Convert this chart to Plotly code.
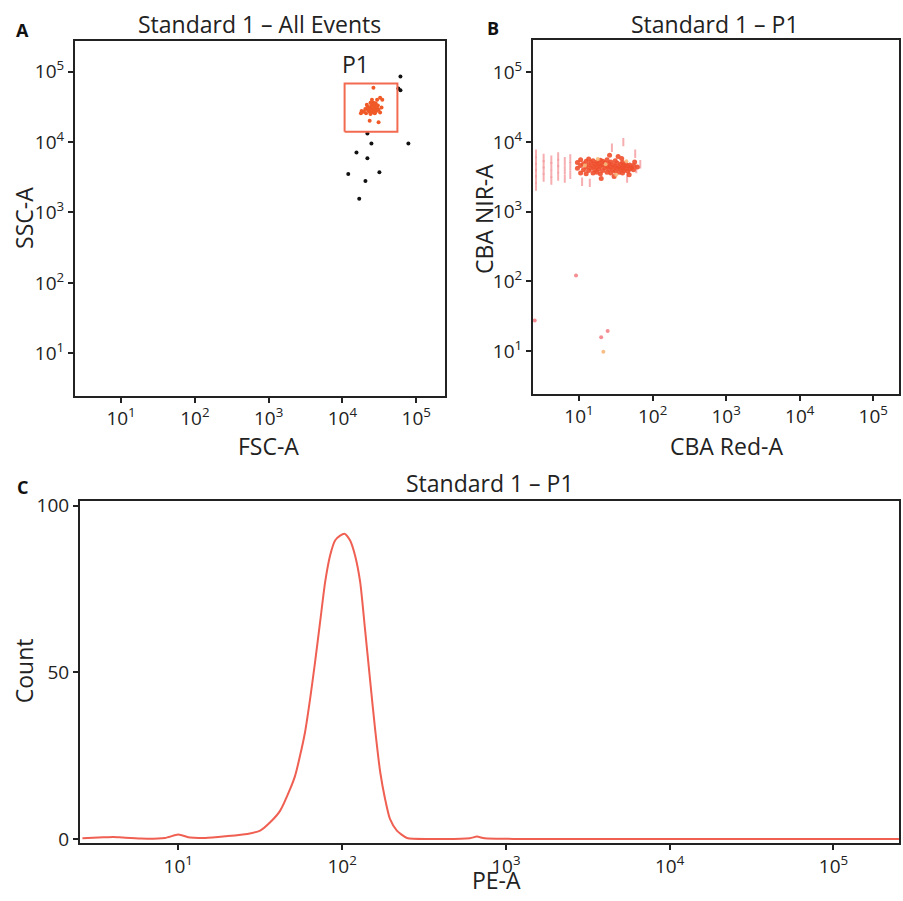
import plotly.graph_objects as go

W, H = 903, 901
FONT = "Open Sans"
INK = "#222222"

# ---------------- Panel A data (FSC-A vs SSC-A) ----------------
gate_fsc = [10700, 55600, 55600, 10700, 10700]
gate_ssc = [14000, 14000, 68000, 68000, 14000]

a_out_fsc = [61100, 57300, 61100, 21800, 24700, 78300, 15500, 21800, 31700, 12000, 20500, 16900]
a_out_ssc = [85100, 57800, 54200, 13200, 9530, 9530, 7130, 5880, 3740, 3510, 2800, 1570]

a_in_fsc = [26300, 32400, 29500, 25100, 24000, 26300, 21400, 25100, 27500, 22900,
            25700, 29500, 20400, 24000, 26900, 30900, 22400, 25100, 28800, 23400,
            26300, 19500, 33900, 32400, 18200, 17800, 20900, 34700, 23400, 30900,
            24000, 27500, 24500, 26300, 28200, 25700, 26900, 24500, 22900, 21900,
            28200, 30200]
a_in_ssc = [58900, 42700, 39800, 39800, 36300, 36300, 33900, 33100, 32400, 30900,
            30900, 30200, 29500, 29500, 28800, 28800, 28200, 27500, 27500, 26900,
            26300, 26900, 30900, 26300, 27500, 25700, 25700, 39800, 20000, 19100,
            25100, 25700, 31600, 31600, 29500, 34700, 33900, 35500, 28800, 31600,
            35500, 33100]

# ---------------- Panel B data (CBA Red-A vs CBA NIR-A) ----------------
b_pale_red = [2.6, 2.6, 2.6, 2.6, 2.6, 2.6, 3.3, 3.3, 3.3, 3.3, 4.2, 4.2, 4.2, 4.2,
              5.2, 5.2, 5.2, 5.2, 6.4, 6.4, 6.4, 7.6, 7.6, 7.6, 11, 14, 45, 60, 68,
              58, 40, 28]
b_pale_nir = [2300, 2900, 3600, 4400, 5400, 6800, 3100, 3900, 4800, 5900, 2800, 3500,
              4500, 5600, 3200, 4100, 5000, 6200, 3000, 4000, 5300, 3400, 4500, 5800,
              2700, 2600, 3000, 4100, 4800, 6800, 10000, 8300]

b_main_red = [9.5, 9.5, 10.5, 10.5, 10.5, 11.5, 11.5, 12.5, 12.5, 12.5, 13.5, 13.5,
              13.5, 14.5, 14.5, 15.5, 15.5, 15.5, 16.5, 16.5, 17.5, 17.5, 17.5, 18.5,
              18.5, 19.5, 19.5, 19.5, 21, 21, 21, 22.5, 22.5, 24, 24, 24, 25.5, 25.5,
              27, 27, 27, 29, 29, 31, 31, 31, 33, 33, 35, 35, 37, 37, 39, 39, 39, 41,
              41, 43, 43, 46, 46, 49, 49, 52, 55, 55, 20, 26, 34, 30, 48, 38, 57, 62]
b_main_nir = [4200, 5100, 3600, 4600, 5600, 4000, 4900, 3500, 4400, 5300, 3900, 4700,
              5700, 4200, 5100, 3600, 4500, 5400, 4000, 4800, 3700, 4400, 5200, 4100,
              4900, 3500, 4500, 5500, 3900, 4700, 5300, 4300, 5000, 3700, 4500, 5600,
              4100, 4900, 3600, 4400, 5200, 4000, 4700, 3800, 4500, 5400, 4200, 5000,
              3700, 4400, 4100, 4800, 3600, 4300, 5100, 3900, 4600, 4200, 4900, 3800,
              4500, 4100, 4700, 4300, 4000, 4600, 3000, 6500, 6200, 3200, 3400, 5800,
              5200, 4400]

b_low_red = [9.1, 2.5, 24.5, 20]
b_low_nir = [122, 27.5, 19.4, 15.8]

b_yel_red = [23, 18, 32, 12, 21.4, 44]
b_yel_nir = [4800, 5700, 3400, 4600, 9.8, 5300]

# ---------------- Panel C data (PE-A histogram) ----------------
pe_values = [2.6, 3.5, 4.0, 4.6, 5.9, 8.3, 10, 11.8, 14.6, 19.4, 26.4, 31.6, 36.4,
             41.9, 48.2, 51.7, 55.4, 59.4, 63.8, 68.4, 73.4, 78.8, 84.5, 90.6, 97.3,
             104, 112, 120, 129, 138, 148, 159, 171, 183, 196, 216, 249, 344, 603,
             665, 741, 1216, 251000]
pe_counts = [0.2, 0.5, 0.6, 0.4, 0.1, 0.3, 1.3, 0.4, 0.3, 0.8, 1.5, 2.5, 5, 8.5,
             15, 19, 25, 32, 42, 53, 65, 77, 85, 89.5, 91, 91.5, 89.5, 85, 77, 63, 48,
             33, 20, 12, 6, 2.5, 0.3, 0, 0.2, 0.7, 0.2, 0, 0]

log_ticks = [10, 100, 1000, 10000, 100000]
log_text = ["10<sup>1</sup>", "10<sup>2</sup>", "10<sup>3</sup>", "10<sup>4</sup>", "10<sup>5</sup>"]
count_ticks = [0, 50, 100]


def px_x(p):
    return p / W


def px_y(p):
    return 1 - p / H


fig = go.Figure()

# Panel A
fig.add_trace(go.Scatter(x=a_out_fsc, y=a_out_ssc, mode="markers", xaxis="x", yaxis="y",
                         marker=dict(color="#111111", size=4), showlegend=False))
fig.add_trace(go.Scatter(x=a_in_fsc, y=a_in_ssc, mode="markers", xaxis="x", yaxis="y",
                         marker=dict(color="#f05a28", size=4), showlegend=False))
fig.add_trace(go.Scatter(x=gate_fsc, y=gate_ssc, mode="lines", xaxis="x", yaxis="y",
                         line=dict(color="#f26a50", width=2), showlegend=False))

# Panel B
fig.add_trace(go.Scatter(x=b_pale_red, y=b_pale_nir, mode="markers", xaxis="x2", yaxis="y2",
                         marker=dict(symbol="line-ns-open", size=6, color="#f49a9e",
                                     line=dict(color="#f49a9e", width=2), opacity=0.8),
                         showlegend=False))
fig.add_trace(go.Scatter(x=b_main_red, y=b_main_nir, mode="markers", xaxis="x2", yaxis="y2",
                         marker=dict(color="#ee4f2c", size=5, opacity=0.9), showlegend=False))
fig.add_trace(go.Scatter(x=b_low_red, y=b_low_nir, mode="markers", xaxis="x2", yaxis="y2",
                         marker=dict(color="#f27a80", size=4, opacity=0.85), showlegend=False))
fig.add_trace(go.Scatter(x=b_yel_red, y=b_yel_nir, mode="markers", xaxis="x2", yaxis="y2",
                         marker=dict(color="#f6b87a", size=4, opacity=0.9), showlegend=False))

# Panel C
fig.add_trace(go.Scatter(x=pe_values, y=pe_counts, mode="lines", xaxis="x3", yaxis="y3",
                         line=dict(color="#ef5f52", width=2, shape="spline", smoothing=0.6),
                         showlegend=False))

axis_common = dict(showline=True, mirror=True, linecolor=INK, linewidth=2,
                   ticks="outside", ticklen=5, tickwidth=1.5, tickcolor=INK,
                   showgrid=False, zeroline=False,
                   tickfont=dict(family=FONT, size=19, color=INK))

fig.update_layout(
    width=W, height=H, autosize=False,
    margin=dict(l=0, r=0, t=0, b=0),
    paper_bgcolor="white", plot_bgcolor="white",
    font=dict(family=FONT, color=INK),
    xaxis=dict(domain=[px_x(75), px_x(445)], type="log", range=[0.376, 5.39],
               tickvals=log_ticks, ticktext=log_text, anchor="y", **axis_common),
    yaxis=dict(domain=[px_y(395), px_y(34)], type="log", range=[0.40, 5.43],
               tickvals=log_ticks, ticktext=log_text, anchor="x", **axis_common),
    xaxis2=dict(domain=[px_x(533), px_x(899)], type="log", range=[0.374, 5.35],
                tickvals=log_ticks, ticktext=log_text, anchor="y2", **axis_common),
    yaxis2=dict(domain=[px_y(393), px_y(33)], type="log", range=[0.39, 5.46],
                tickvals=log_ticks, ticktext=log_text, anchor="x2", **axis_common),
    xaxis3=dict(domain=[px_x(80), px_x(899)], type="log", range=[0.40, 5.40],
                tickvals=log_ticks, ticktext=log_text, anchor="y3", **axis_common),
    yaxis3=dict(domain=[px_y(851), px_y(502)], range=[-1.2, 101.5],
                tickvals=count_ticks, anchor="x3", **axis_common),
)

title_font = dict(family=FONT, size=23, color=INK)
label_font = dict(family=FONT, size=23, color=INK)
panel_font = dict(family=FONT, size=18, color="#111111")

annotations = [
    # panel letters
    dict(text="<b>A</b>", x=px_x(22), y=px_y(22), font=panel_font),
    dict(text="<b>B</b>", x=px_x(493), y=px_y(20), font=panel_font),
    dict(text="<b>C</b>", x=px_x(22), y=px_y(488), font=panel_font),
    # titles
    dict(text="Standard 1 – All Events", x=px_x(259), y=px_y(16), font=title_font),
    dict(text="Standard 1 – P1", x=px_x(715), y=px_y(16), font=title_font),
    dict(text="Standard 1 – P1", x=px_x(490), y=px_y(484), font=title_font),
    # axis titles
    dict(text="FSC-A", x=px_x(268), y=px_y(446), font=label_font),
    dict(text="SSC-A", x=px_x(24), y=px_y(214), font=label_font, textangle=-90),
    dict(text="CBA Red-A", x=px_x(726), y=px_y(446), font=label_font),
    dict(text="CBA NIR-A", x=px_x(484), y=px_y(215), font=label_font, textangle=-90),
    dict(text="Count", x=px_x(24), y=px_y(676), font=label_font, textangle=-90),
    dict(text="PE-A", x=px_x(496), y=px_y(889), font=label_font),
    # gate label
    dict(text="P1", x=px_x(355), y=px_y(57), font=dict(family=FONT, size=23, color=INK)),
]
for a in annotations:
    a.update(xref="paper", yref="paper", showarrow=False, xanchor="center", yanchor="middle")
fig.update_layout(annotations=annotations)

fig.write_html(
    "out.html",
    config={"displayModeBar": False, "responsive": False},
    post_script=(
        "var gd=document.getElementById('{plot_id}');"
        "gd.style.position='fixed';gd.style.top='0px';gd.style.left='0px';"
        "document.body.style.margin='0';document.body.style.overflow='hidden';"
        "document.documentElement.style.overflow='hidden';"
    ),
)
